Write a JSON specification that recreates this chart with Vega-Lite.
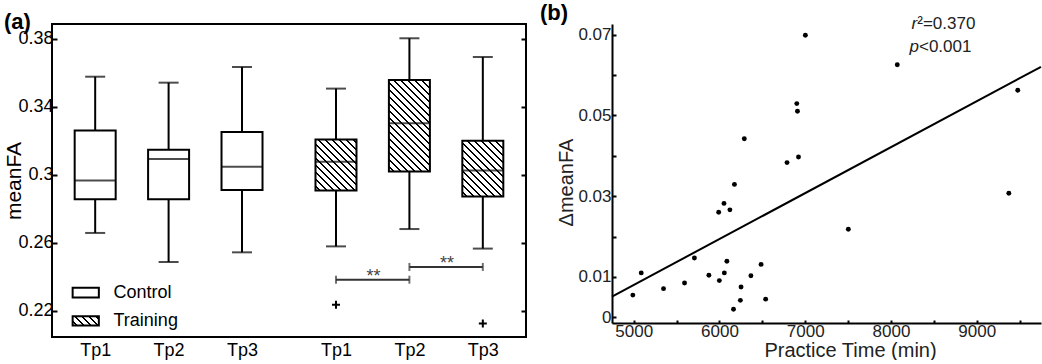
{
  "$schema": "https://vega.github.io/schema/vega-lite/v6.json",
  "usermeta": {"embedOptions": {"actions": false}},
  "padding": {"left": 2, "top": 2, "right": 0, "bottom": 0},
  "spacing": 11,
  "config": {
    "view": {"stroke": null},
    "font": "Liberation Sans",
    "axis": {"labelFont": "Liberation Sans", "titleFont": "Liberation Sans", "grid": false}
  },
  "hconcat": [
    {
      "width": 474,
      "height": 313,
      "view": {"stroke": "black", "strokeWidth": 2},
      "title": {"text": "(a)", "anchor": "start", "frame": "bounds", "fontSize": 22, "fontWeight": "bold", "font": "Liberation Sans", "color": "black", "offset": -10},
      "data": {"values": [
        {"group": "Control", "tp": "Tp1", "pos": 1, "lo": 0.2657, "q1": 0.2855, "med": 0.2966, "q3": 0.3259, "hi": 0.3576},
        {"group": "Control", "tp": "Tp2", "pos": 2, "lo": 0.2486, "q1": 0.2855, "med": 0.3092, "q3": 0.3147, "hi": 0.3541},
        {"group": "Control", "tp": "Tp3", "pos": 3, "lo": 0.2543, "q1": 0.2910, "med": 0.3047, "q3": 0.3251, "hi": 0.3633},
        {"group": "Training", "tp": "Tp1", "pos": 4.28, "lo": 0.2578, "q1": 0.2906, "med": 0.3076, "q3": 0.3206, "hi": 0.3506},
        {"group": "Training", "tp": "Tp2", "pos": 5.28, "lo": 0.2680, "q1": 0.3019, "med": 0.3302, "q3": 0.3557, "hi": 0.3802},
        {"group": "Training", "tp": "Tp3", "pos": 6.28, "lo": 0.2565, "q1": 0.2872, "med": 0.3025, "q3": 0.3200, "hi": 0.3692}
      ]},
      "resolve": {"axis": {"y": "independent"}},
      "layer": [
        {
          "mark": {"type": "rule", "strokeWidth": 2, "color": "black"},
          "encoding": {
            "x": {"field": "pos", "type": "quantitative", "scale": {"domain": [0.48, 6.8], "nice": false, "zero": false},
              "axis": {"values": [1, 2, 3, 4.28, 5.28, 6.28], "labelExpr": "datum.value < 3.5 ? 'Tp' + datum.value : 'Tp' + round(datum.value - 3.28)", "ticks": false, "domain": false, "title": null, "labelFontSize": 18, "labelPadding": 4, "labelColor": "black"}},
            "y": {"field": "lo", "type": "quantitative", "scale": {"domain": [0.2045, 0.3886], "nice": false, "zero": false},
              "axis": {"orient": "left", "values": [0.22, 0.26, 0.3, 0.34, 0.38], "format": ".2~f", "tickSize": -5, "tickWidth": 2, "tickColor": "black", "domain": false, "labelFontSize": 18, "labelPadding": 4, "labelColor": "black", "title": "meanFA", "titleFontSize": 21, "titleFontWeight": "normal", "titleColor": "black", "titlePadding": -7}},
            "y2": {"field": "hi"}
          }
        },
        {
          "mark": {"type": "tick", "orient": "horizontal", "size": 20, "thickness": 2, "color": "black"},
          "encoding": {
            "x": {"field": "pos", "type": "quantitative"},
            "y": {"field": "lo", "type": "quantitative",
              "axis": {"orient": "right", "values": [0.22, 0.26, 0.3, 0.34, 0.38], "labels": false, "tickSize": -5, "tickWidth": 2, "tickColor": "black", "domain": false, "title": null}}
          }
        },
        {
          "mark": {"type": "tick", "orient": "horizontal", "size": 20, "thickness": 2, "color": "black"},
          "encoding": {
            "x": {"field": "pos", "type": "quantitative"},
            "y": {"field": "hi", "type": "quantitative", "axis": null}
          }
        },
        {
          "transform": [{"filter": "datum.group === 'Control'"}],
          "mark": {"type": "bar", "width": 41, "fill": "white", "stroke": "black", "strokeWidth": 2},
          "encoding": {
            "x": {"field": "pos", "type": "quantitative"},
            "y": {"field": "q1", "type": "quantitative", "axis": null},
            "y2": {"field": "q3"}
          }
        },
        {
          "transform": [{"filter": "datum.group === 'Training' && datum.tp === 'Tp1'"}],
          "mark": {"type": "bar", "width": 41, "stroke": "black", "strokeWidth": 2,
            "fill": {"gradient": "linear", "x1": 0, "y1": 1, "x2": 1, "y2": -0.2439, "stops": [
              {"offset": 0, "color": "white"},
              {"offset": 0.0383, "color": "white"}, {"offset": 0.0383, "color": "black"}, {"offset": 0.0575, "color": "black"}, {"offset": 0.0575, "color": "white"},
              {"offset": 0.1053, "color": "white"}, {"offset": 0.1053, "color": "black"}, {"offset": 0.1245, "color": "black"}, {"offset": 0.1245, "color": "white"},
              {"offset": 0.1724, "color": "white"}, {"offset": 0.1724, "color": "black"}, {"offset": 0.1916, "color": "black"}, {"offset": 0.1916, "color": "white"},
              {"offset": 0.2394, "color": "white"}, {"offset": 0.2394, "color": "black"}, {"offset": 0.2586, "color": "black"}, {"offset": 0.2586, "color": "white"},
              {"offset": 0.3064, "color": "white"}, {"offset": 0.3064, "color": "black"}, {"offset": 0.3256, "color": "black"}, {"offset": 0.3256, "color": "white"},
              {"offset": 0.3734, "color": "white"}, {"offset": 0.3734, "color": "black"}, {"offset": 0.3926, "color": "black"}, {"offset": 0.3926, "color": "white"},
              {"offset": 0.4405, "color": "white"}, {"offset": 0.4405, "color": "black"}, {"offset": 0.4597, "color": "black"}, {"offset": 0.4597, "color": "white"},
              {"offset": 0.5075, "color": "white"}, {"offset": 0.5075, "color": "black"}, {"offset": 0.5267, "color": "black"}, {"offset": 0.5267, "color": "white"},
              {"offset": 0.5745, "color": "white"}, {"offset": 0.5745, "color": "black"}, {"offset": 0.5937, "color": "black"}, {"offset": 0.5937, "color": "white"},
              {"offset": 0.6415, "color": "white"}, {"offset": 0.6415, "color": "black"}, {"offset": 0.6607, "color": "black"}, {"offset": 0.6607, "color": "white"},
              {"offset": 0.7086, "color": "white"}, {"offset": 0.7086, "color": "black"}, {"offset": 0.7278, "color": "black"}, {"offset": 0.7278, "color": "white"},
              {"offset": 0.7756, "color": "white"}, {"offset": 0.7756, "color": "black"}, {"offset": 0.7948, "color": "black"}, {"offset": 0.7948, "color": "white"},
              {"offset": 0.8426, "color": "white"}, {"offset": 0.8426, "color": "black"}, {"offset": 0.8618, "color": "black"}, {"offset": 0.8618, "color": "white"},
              {"offset": 1, "color": "white"}
            ]}},
          "encoding": {
            "x": {"field": "pos", "type": "quantitative"},
            "y": {"field": "q1", "type": "quantitative", "axis": null},
            "y2": {"field": "q3"}
          }
        },
        {
          "transform": [{"filter": "datum.group === 'Training' && datum.tp === 'Tp2'"}],
          "mark": {"type": "bar", "width": 41, "stroke": "black", "strokeWidth": 2,
            "fill": {"gradient": "linear", "x1": 0, "y1": 1, "x2": 1, "y2": -1.2317, "stops": [
              {"offset": 0, "color": "white"},
              {"offset": 0.0163, "color": "white"}, {"offset": 0.0163, "color": "black"}, {"offset": 0.0245, "color": "black"}, {"offset": 0.0245, "color": "white"},
              {"offset": 0.0449, "color": "white"}, {"offset": 0.0449, "color": "black"}, {"offset": 0.0531, "color": "black"}, {"offset": 0.0531, "color": "white"},
              {"offset": 0.0734, "color": "white"}, {"offset": 0.0734, "color": "black"}, {"offset": 0.0816, "color": "black"}, {"offset": 0.0816, "color": "white"},
              {"offset": 0.1020, "color": "white"}, {"offset": 0.1020, "color": "black"}, {"offset": 0.1102, "color": "black"}, {"offset": 0.1102, "color": "white"},
              {"offset": 0.1305, "color": "white"}, {"offset": 0.1305, "color": "black"}, {"offset": 0.1387, "color": "black"}, {"offset": 0.1387, "color": "white"},
              {"offset": 0.1590, "color": "white"}, {"offset": 0.1590, "color": "black"}, {"offset": 0.1672, "color": "black"}, {"offset": 0.1672, "color": "white"},
              {"offset": 0.1876, "color": "white"}, {"offset": 0.1876, "color": "black"}, {"offset": 0.1958, "color": "black"}, {"offset": 0.1958, "color": "white"},
              {"offset": 0.2161, "color": "white"}, {"offset": 0.2161, "color": "black"}, {"offset": 0.2243, "color": "black"}, {"offset": 0.2243, "color": "white"},
              {"offset": 0.2447, "color": "white"}, {"offset": 0.2447, "color": "black"}, {"offset": 0.2529, "color": "black"}, {"offset": 0.2529, "color": "white"},
              {"offset": 0.2732, "color": "white"}, {"offset": 0.2732, "color": "black"}, {"offset": 0.2814, "color": "black"}, {"offset": 0.2814, "color": "white"},
              {"offset": 0.3018, "color": "white"}, {"offset": 0.3018, "color": "black"}, {"offset": 0.3100, "color": "black"}, {"offset": 0.3100, "color": "white"},
              {"offset": 0.3303, "color": "white"}, {"offset": 0.3303, "color": "black"}, {"offset": 0.3385, "color": "black"}, {"offset": 0.3385, "color": "white"},
              {"offset": 0.3589, "color": "white"}, {"offset": 0.3589, "color": "black"}, {"offset": 0.3671, "color": "black"}, {"offset": 0.3671, "color": "white"},
              {"offset": 0.3874, "color": "white"}, {"offset": 0.3874, "color": "black"}, {"offset": 0.3956, "color": "black"}, {"offset": 0.3956, "color": "white"},
              {"offset": 0.4160, "color": "white"}, {"offset": 0.4160, "color": "black"}, {"offset": 0.4242, "color": "black"}, {"offset": 0.4242, "color": "white"},
              {"offset": 0.4445, "color": "white"}, {"offset": 0.4445, "color": "black"}, {"offset": 0.4527, "color": "black"}, {"offset": 0.4527, "color": "white"},
              {"offset": 0.4730, "color": "white"}, {"offset": 0.4730, "color": "black"}, {"offset": 0.4812, "color": "black"}, {"offset": 0.4812, "color": "white"},
              {"offset": 0.5016, "color": "white"}, {"offset": 0.5016, "color": "black"}, {"offset": 0.5098, "color": "black"}, {"offset": 0.5098, "color": "white"},
              {"offset": 0.5301, "color": "white"}, {"offset": 0.5301, "color": "black"}, {"offset": 0.5383, "color": "black"}, {"offset": 0.5383, "color": "white"},
              {"offset": 1, "color": "white"}
            ]}},
          "encoding": {
            "x": {"field": "pos", "type": "quantitative"},
            "y": {"field": "q1", "type": "quantitative", "axis": null},
            "y2": {"field": "q3"}
          }
        },
        {
          "transform": [{"filter": "datum.group === 'Training' && datum.tp === 'Tp3'"}],
          "mark": {"type": "bar", "width": 41, "stroke": "black", "strokeWidth": 2,
            "fill": {"gradient": "linear", "x1": 0, "y1": 1, "x2": 1, "y2": -0.361, "stops": [
              {"offset": 0, "color": "white"},
              {"offset": 0.0342, "color": "white"}, {"offset": 0.0342, "color": "black"}, {"offset": 0.0513, "color": "black"}, {"offset": 0.0513, "color": "white"},
              {"offset": 0.0941, "color": "white"}, {"offset": 0.0941, "color": "black"}, {"offset": 0.1112, "color": "black"}, {"offset": 0.1112, "color": "white"},
              {"offset": 0.1539, "color": "white"}, {"offset": 0.1539, "color": "black"}, {"offset": 0.1710, "color": "black"}, {"offset": 0.1710, "color": "white"},
              {"offset": 0.2138, "color": "white"}, {"offset": 0.2138, "color": "black"}, {"offset": 0.2309, "color": "black"}, {"offset": 0.2309, "color": "white"},
              {"offset": 0.2736, "color": "white"}, {"offset": 0.2736, "color": "black"}, {"offset": 0.2907, "color": "black"}, {"offset": 0.2907, "color": "white"},
              {"offset": 0.3335, "color": "white"}, {"offset": 0.3335, "color": "black"}, {"offset": 0.3506, "color": "black"}, {"offset": 0.3506, "color": "white"},
              {"offset": 0.3933, "color": "white"}, {"offset": 0.3933, "color": "black"}, {"offset": 0.4104, "color": "black"}, {"offset": 0.4104, "color": "white"},
              {"offset": 0.4532, "color": "white"}, {"offset": 0.4532, "color": "black"}, {"offset": 0.4703, "color": "black"}, {"offset": 0.4703, "color": "white"},
              {"offset": 0.5131, "color": "white"}, {"offset": 0.5131, "color": "black"}, {"offset": 0.5302, "color": "black"}, {"offset": 0.5302, "color": "white"},
              {"offset": 0.5729, "color": "white"}, {"offset": 0.5729, "color": "black"}, {"offset": 0.5900, "color": "black"}, {"offset": 0.5900, "color": "white"},
              {"offset": 0.6328, "color": "white"}, {"offset": 0.6328, "color": "black"}, {"offset": 0.6499, "color": "black"}, {"offset": 0.6499, "color": "white"},
              {"offset": 0.6926, "color": "white"}, {"offset": 0.6926, "color": "black"}, {"offset": 0.7097, "color": "black"}, {"offset": 0.7097, "color": "white"},
              {"offset": 0.7525, "color": "white"}, {"offset": 0.7525, "color": "black"}, {"offset": 0.7696, "color": "black"}, {"offset": 0.7696, "color": "white"},
              {"offset": 0.8123, "color": "white"}, {"offset": 0.8123, "color": "black"}, {"offset": 0.8294, "color": "black"}, {"offset": 0.8294, "color": "white"},
              {"offset": 1, "color": "white"}
            ]}},
          "encoding": {
            "x": {"field": "pos", "type": "quantitative"},
            "y": {"field": "q1", "type": "quantitative", "axis": null},
            "y2": {"field": "q3"}
          }
        },
        {
          "mark": {"type": "tick", "orient": "horizontal", "size": 41, "thickness": 2, "color": "black"},
          "encoding": {
            "x": {"field": "pos", "type": "quantitative"},
            "y": {"field": "med", "type": "quantitative", "axis": null}
          }
        },
        {
          "data": {"values": [
            {"group": "Training", "tp": "Tp1", "pos": 4.28, "value": 0.2235},
            {"group": "Training", "tp": "Tp3", "pos": 6.28, "value": 0.2125}
          ]},
          "mark": {"type": "point", "shape": "M-1,0H1M0,-1V1", "size": 64, "filled": false, "stroke": "black", "strokeWidth": 2, "opacity": 1},
          "encoding": {
            "x": {"field": "pos", "type": "quantitative"},
            "y": {"field": "value", "type": "quantitative", "axis": null}
          }
        },
        {
          "data": {"values": [
            {"from": 4.28, "to": 5.28, "level": 0.2382, "label": "**"},
            {"from": 5.28, "to": 6.28, "level": 0.2457, "label": "**"}
          ]},
          "layer": [
            {
              "mark": {"type": "rule", "strokeWidth": 2, "color": "#333333"},
              "encoding": {
                "x": {"field": "from", "type": "quantitative"},
                "x2": {"field": "to"},
                "y": {"field": "level", "type": "quantitative", "axis": null}
              }
            },
            {
              "mark": {"type": "tick", "orient": "vertical", "size": 8, "thickness": 2, "color": "#333333"},
              "encoding": {
                "x": {"field": "from", "type": "quantitative"},
                "y": {"field": "level", "type": "quantitative", "axis": null}
              }
            },
            {
              "mark": {"type": "tick", "orient": "vertical", "size": 8, "thickness": 2, "color": "#333333"},
              "encoding": {
                "x": {"field": "to", "type": "quantitative"},
                "y": {"field": "level", "type": "quantitative", "axis": null}
              }
            },
            {
              "mark": {"type": "text", "align": "center", "baseline": "alphabetic", "dx": 37.5, "dy": 2, "fontSize": 18, "color": "#444444", "font": "Liberation Sans"},
              "encoding": {
                "x": {"field": "from", "type": "quantitative"},
                "y": {"field": "level", "type": "quantitative", "axis": null},
                "text": {"field": "label"}
              }
            }
          ]
        },
        {
          "data": {"values": [{"item": "Control"}]},
          "layer": [
            {
              "mark": {"type": "rect", "fill": "white", "stroke": "black", "strokeWidth": 2},
              "encoding": {
                "x": {"datum": 0.693, "type": "quantitative"},
                "x2": {"datum": 1.05},
                "y": {"datum": 0.2335, "type": "quantitative", "axis": null},
                "y2": {"datum": 0.2277}
              }
            },
            {
              "mark": {"type": "text", "align": "left", "baseline": "middle", "fontSize": 18, "color": "black", "font": "Liberation Sans"},
              "encoding": {
                "x": {"datum": 1.25, "type": "quantitative"},
                "y": {"datum": 0.2306, "type": "quantitative", "axis": null},
                "text": {"field": "item"}
              }
            }
          ]
        },
        {
          "data": {"values": [{"item": "Training"}]},
          "layer": [
            {
              "mark": {"type": "rect", "stroke": "black", "strokeWidth": 2,
                "fill": {"gradient": "linear", "x1": 0, "y1": 1, "x2": 1.3, "y2": 0.5375, "stops": [
                  {"offset": 0, "color": "white"},
                  {"offset": 0.1023, "color": "white"}, {"offset": 0.1023, "color": "black"}, {"offset": 0.1535, "color": "black"}, {"offset": 0.1535, "color": "white"},
                  {"offset": 0.2814, "color": "white"}, {"offset": 0.2814, "color": "black"}, {"offset": 0.3326, "color": "black"}, {"offset": 0.3326, "color": "white"},
                  {"offset": 0.4604, "color": "white"}, {"offset": 0.4604, "color": "black"}, {"offset": 0.5116, "color": "black"}, {"offset": 0.5116, "color": "white"},
                  {"offset": 0.6395, "color": "white"}, {"offset": 0.6395, "color": "black"}, {"offset": 0.6907, "color": "black"}, {"offset": 0.6907, "color": "white"},
                  {"offset": 0.8186, "color": "white"}, {"offset": 0.8186, "color": "black"}, {"offset": 0.8698, "color": "black"}, {"offset": 0.8698, "color": "white"},
                  {"offset": 1, "color": "white"}
                ]}},
              "encoding": {
                "x": {"datum": 0.693, "type": "quantitative"},
                "x2": {"datum": 1.05},
                "y": {"datum": 0.2167, "type": "quantitative", "axis": null},
                "y2": {"datum": 0.2112}
              }
            },
            {
              "mark": {"type": "text", "align": "left", "baseline": "middle", "fontSize": 18, "color": "black", "font": "Liberation Sans"},
              "encoding": {
                "x": {"datum": 1.25, "type": "quantitative"},
                "y": {"datum": 0.2141, "type": "quantitative", "axis": null},
                "text": {"field": "item"}
              }
            }
          ]
        }
      ]
    },
    {
      "width": 429,
      "height": 299,
      "title": {"text": "(b)", "anchor": "start", "frame": "bounds", "fontSize": 22, "fontWeight": "bold", "font": "Liberation Sans", "color": "black", "offset": -10, "dx": -17},
      "layer": [
        {
          "data": {"values": [
            {"time": 4990, "dfa": 0.0055}, {"time": 5088, "dfa": 0.0110}, {"time": 5348, "dfa": 0.0071},
            {"time": 5593, "dfa": 0.0085}, {"time": 5708, "dfa": 0.0147}, {"time": 5877, "dfa": 0.0104},
            {"time": 5991, "dfa": 0.0260}, {"time": 5999, "dfa": 0.0091}, {"time": 6053, "dfa": 0.0282},
            {"time": 6057, "dfa": 0.0110}, {"time": 6087, "dfa": 0.0139}, {"time": 6122, "dfa": 0.0266},
            {"time": 6164, "dfa": 0.0020}, {"time": 6175, "dfa": 0.0329}, {"time": 6244, "dfa": 0.0042},
            {"time": 6252, "dfa": 0.0075}, {"time": 6290, "dfa": 0.0442}, {"time": 6367, "dfa": 0.0103},
            {"time": 6485, "dfa": 0.0131}, {"time": 6539, "dfa": 0.0045}, {"time": 6788, "dfa": 0.0383},
            {"time": 6902, "dfa": 0.0529}, {"time": 6910, "dfa": 0.0510}, {"time": 6922, "dfa": 0.0397},
            {"time": 7002, "dfa": 0.0698}, {"time": 7503, "dfa": 0.0218}, {"time": 8074, "dfa": 0.0625},
            {"time": 9375, "dfa": 0.0307}, {"time": 9479, "dfa": 0.0562}
          ]},
          "mark": {"type": "circle", "size": 24, "color": "black", "opacity": 1},
          "encoding": {
            "x": {"field": "time", "type": "quantitative", "scale": {"domain": [4747, 9750], "nice": false, "zero": false},
              "axis": {"values": [5000, 5500, 6000, 6500, 7000, 7500, 8000, 8500, 9000, 9500], "format": "d", "labelExpr": "datum.value % 1000 === 0 ? datum.label : ''", "tickSize": -3, "tickWidth": 2, "tickColor": "black", "domainColor": "black", "domainWidth": 2, "labelFontSize": 17, "labelPadding": 3, "labelColor": "#222222", "title": "Practice Time (min)", "titleFontSize": 20, "titleFontWeight": "normal", "titleColor": "#222222", "titlePadding": 1, "titleX": 238}},
            "y": {"field": "dfa", "type": "quantitative", "scale": {"domain": [-0.0014, 0.0726], "nice": false, "zero": false},
              "axis": {"values": [0, 0.01, 0.02, 0.03, 0.04, 0.05, 0.06, 0.07], "format": "~g", "labelExpr": "(datum.value === 0 || round(datum.value * 100) % 2 === 1) ? datum.label : ''", "tickSize": -4, "tickWidth": 2, "tickColor": "black", "domainColor": "black", "domainWidth": 2, "labelFontSize": 17, "labelPadding": 5, "labelColor": "#222222", "title": "ΔmeanFA", "titleFontSize": 20, "titleFontWeight": "normal", "titleColor": "#222222", "titlePadding": 1, "titleY": 158}}
          }
        },
        {
          "data": {"values": [{"time": 4747, "dfa": 0.00514}, {"time": 9750, "dfa": 0.0620}]},
          "mark": {"type": "line", "color": "black", "strokeWidth": 2},
          "encoding": {
            "x": {"field": "time", "type": "quantitative"},
            "y": {"field": "dfa", "type": "quantitative"}
          }
        },
        {
          "data": {"values": [
            {"time": 8307, "dfa": 0.0726, "sym": "r", "rest": "²=0.370"},
            {"time": 8327, "dfa": 0.0669, "sym": "p", "rest": "<0.001"}
          ]},
          "layer": [
            {
              "mark": {"type": "text", "align": "right", "baseline": "middle", "fontSize": 17, "fontStyle": "italic", "color": "#222222", "font": "Liberation Sans"},
              "encoding": {
                "x": {"field": "time", "type": "quantitative"},
                "y": {"field": "dfa", "type": "quantitative"},
                "text": {"field": "sym"}
              }
            },
            {
              "mark": {"type": "text", "align": "left", "baseline": "middle", "fontSize": 17, "color": "#222222", "font": "Liberation Sans"},
              "encoding": {
                "x": {"field": "time", "type": "quantitative"},
                "y": {"field": "dfa", "type": "quantitative"},
                "text": {"field": "rest"}
              }
            }
          ]
        }
      ]
    }
  ]
}
